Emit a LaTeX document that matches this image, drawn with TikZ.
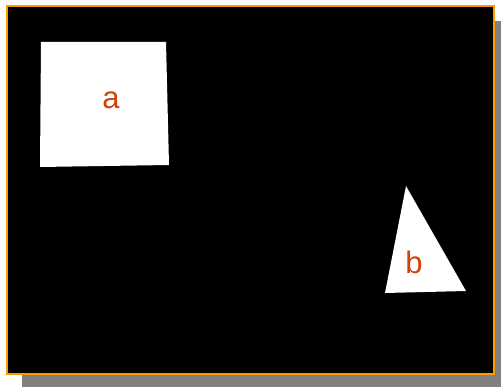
\documentclass[tikz,border=0pt]{standalone}
\usepackage{fontspec}
\setmainfont{Liberation Sans}
\usetikzlibrary{positioning}
\definecolor{framecol}{RGB}{255,153,0}
\definecolor{labelcol}{RGB}{210,65,10}
\definecolor{shadowcol}{RGB}{128,128,128}

\begin{document}
\begin{tikzpicture}[x=1pt, y=-1pt, font=\fontsize{31}{31}\selectfont, lbl/.style={text=labelcol, inner sep=0pt, anchor=base}, whiteshape/.style={fill=white}]
\useasboundingbox (0,0) rectangle (501,387);
\fill[shadowcol] (22,21) rectangle (501,387);
\draw[framecol, line width=2.6pt, fill=black] (7,6) rectangle (494,374);
\fill[whiteshape] (41,42) -- (166,42) -- (169,165) -- (40,167) -- cycle;
\fill[whiteshape] (406,186) -- (466,291) -- (385,293) -- cycle;
\node[lbl] (a) at (111,109) {a};
\node[lbl] (b) at (414,274) {b};
\end{tikzpicture}
\end{document}
